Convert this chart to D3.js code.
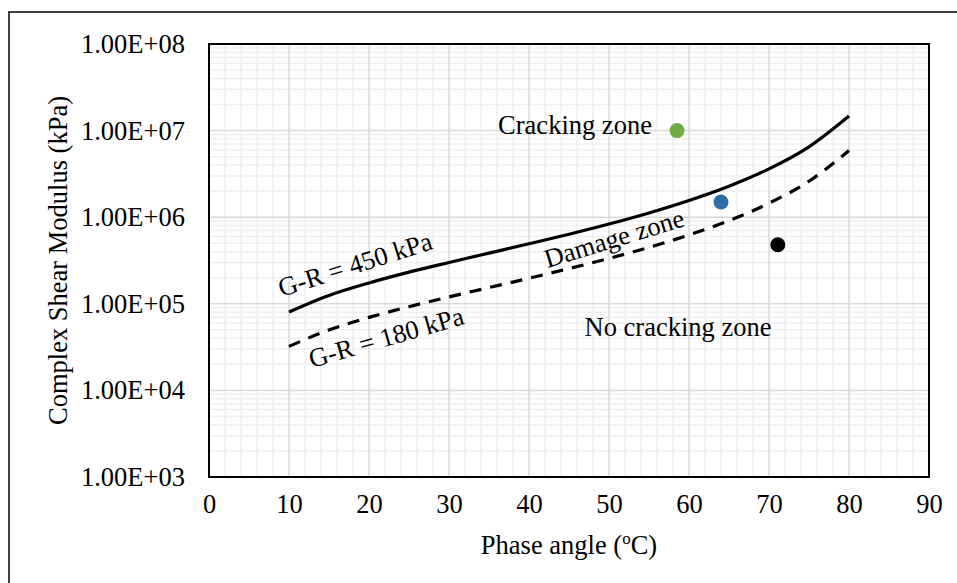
<!DOCTYPE html>
<html><head><meta charset="utf-8">
<script src="https://cdn.jsdelivr.net/npm/d3@7"></script>
<style>body{margin:0;background:#fff}svg{display:block}text{font-family:"Liberation Serif","Times New Roman",serif;fill:#000}</style>
</head><body>
<script>
const phaseAngles = [10,15,20,25,30,35,40,45,50,55,60,65,70,75,80];
const gr450 = [8.06e4,1.25e5,1.74e5,2.32e5,3.0e5,3.85e5,4.93e5,6.36e5,8.34e5,1.12e6,1.56e6,2.28e6,3.61e6,6.49e6,1.47e7];
const gr180 = [3.22e4,4.99e4,6.97e4,9.26e4,1.2e5,1.54e5,1.97e5,2.55e5,3.34e5,4.48e5,6.24e5,9.13e5,1.45e6,2.6e6,5.88e6];
const pointX = [58.5,64,71.1];
const pointY = [1.0e7,1.5e6,4.8e5];
const pointColors = ["#70ad47","#2e6da4","#000000"];
const xTicks = [0,10,20,30,40,50,60,70,80,90];
const yTicks = [1e3,1e4,1e5,1e6,1e7,1e8];
const yTickLabels = ["1.00E+03","1.00E+04","1.00E+05","1.00E+06","1.00E+07","1.00E+08"];

const W=957,H=583;
const m={l:209,r:929,t:44,b:477};
const FS=26.5;
const svg=d3.select("body").append("svg").attr("width",W).attr("height",H);
svg.append("rect").attr("width",W).attr("height",H).attr("fill","#fff");
// outer frame
svg.append("rect").attr("x",9).attr("y",12).attr("width",1100).attr("height",1000)
  .attr("fill","none").attr("stroke","#000").attr("stroke-width",1.5);

const x=d3.scaleLinear().domain([0,90]).range([m.l,m.r]);
const y=d3.scaleLog().domain([1e3,1e8]).range([m.b,m.t]);

// minor grid
const xMinor=d3.range(0,91,2).filter(v=>v%10!==0);
const yMinor=[];
for(let d=3;d<8;d++){for(let k=2;k<10;k++)yMinor.push(k*Math.pow(10,d));}
const g=svg.append("g");
g.selectAll(".xm").data(xMinor).join("line").attr("x1",d=>x(d)).attr("x2",d=>x(d)).attr("y1",m.t).attr("y2",m.b).attr("stroke","#efefef").attr("stroke-width",1.5);
g.selectAll(".ym").data(yMinor).join("line").attr("y1",d=>y(d)).attr("y2",d=>y(d)).attr("x1",m.l).attr("x2",m.r).attr("stroke","#efefef").attr("stroke-width",1.5);
g.selectAll(".xM").data(xTicks).join("line").attr("x1",d=>x(d)).attr("x2",d=>x(d)).attr("y1",m.t).attr("y2",m.b).attr("stroke","#d9d9d9").attr("stroke-width",1.5);
g.selectAll(".yM").data(yTicks).join("line").attr("y1",d=>y(d)).attr("y2",d=>y(d)).attr("x1",m.l).attr("x2",m.r).attr("stroke","#d9d9d9").attr("stroke-width",1.5);

// plot frame
svg.append("rect").attr("x",m.l).attr("y",m.t).attr("width",m.r-m.l).attr("height",m.b-m.t)
  .attr("fill","none").attr("stroke","#000").attr("stroke-width",2);

// axes (labels only)
const xa=svg.append("g").attr("transform",`translate(0,${m.b})`)
  .call(d3.axisBottom(x).tickValues(xTicks).tickSize(0).tickPadding(17).tickFormat(d3.format("d")));
xa.select(".domain").remove();
xa.selectAll("text").attr("font-size",FS).attr("font-family","Liberation Serif");
const ya=svg.append("g").attr("transform",`translate(${m.l},0)`)
  .call(d3.axisLeft(y).tickValues(yTicks).tickSize(0).tickPadding(24).tickFormat((d,i)=>yTickLabels[i]));
ya.select(".domain").remove();
ya.selectAll("text").attr("font-size",FS).attr("font-family","Liberation Serif");

// titles
const xt=svg.append("text").attr("x",(m.l+m.r)/2).attr("y",554).attr("text-anchor","middle").attr("font-size",FS);
xt.append("tspan").text("Phase angle (");
xt.append("tspan").attr("font-size",17).attr("dy",-10).text("o");
xt.append("tspan").attr("dy",10).text("C)");
svg.append("text").attr("transform",`translate(58,${(m.t+m.b)/2}) rotate(-90)`).attr("text-anchor","middle").attr("dy","0.35em").attr("font-size",FS).text("Complex Shear Modulus (kPa)");

// curves
const line=d3.line().x((d,i)=>x(phaseAngles[i])).y(d=>y(d)).curve(d3.curveMonotoneX);
svg.append("path").attr("d",line(gr450)).attr("fill","none").attr("stroke","#000").attr("stroke-width",3.2);
svg.append("path").attr("d",line(gr180)).attr("fill","none").attr("stroke","#000").attr("stroke-width",3.2).attr("stroke-dasharray","12,9");

// points
svg.selectAll(".pt").data(pointX).join("circle").attr("cx",d=>x(d)).attr("cy",(d,i)=>y(pointY[i])).attr("r",7.5).attr("fill",(d,i)=>pointColors[i]);

// annotations
function ann(t,cx,cy,rot){svg.append("text").attr("transform",`translate(${cx},${cy}) rotate(${rot})`).attr("text-anchor","middle").attr("dy","0.35em").attr("font-size",FS).text(t);}
ann("Cracking zone",575,125,0);
ann("No cracking zone",678,327,0);
ann("G-R = 450 kPa",355,264,-17.5);
ann("G-R = 180 kPa",386,337,-16);
ann("Damage zone",614,238,-17);
</script>
</body></html>
